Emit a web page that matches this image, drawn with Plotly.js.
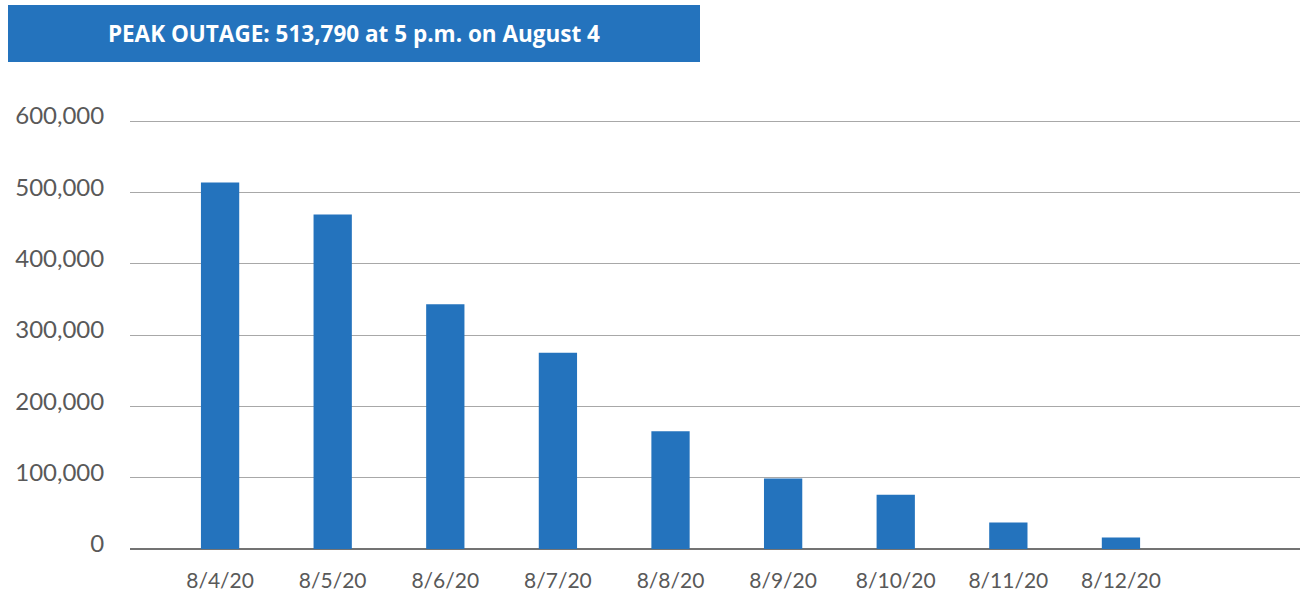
<!DOCTYPE html>
<html>
<head>
<meta charset="utf-8">
<script src="https://cdn.plot.ly/plotly-3.0.1.min.js"></script>
<style>html,body{margin:0;padding:0;background:#fff;}#chart{width:1304px;height:592px;}</style>
</head>
<body>
<div id="chart"></div>
<script>
var dates = ["8/4/20","8/5/20","8/6/20","8/7/20","8/8/20","8/9/20","8/10/20","8/11/20","8/12/20"];
var outages = [513790, 469000, 343000, 275000, 165000, 99000, 76000, 37000, 16000];
var yTicks = [0, 100000, 200000, 300000, 400000, 500000, 600000];
var yTickLabels = ["0","100,000","200,000","300,000","400,000","500,000","600,000"];
var headline = "PEAK OUTAGE: 513,790 at 5 p.m. on August 4";

var FONT = "Lato, 'Open Sans', sans-serif";
var trace = {
  type: "bar",
  x: dates,
  y: outages,
  width: 0.34,
  marker: {color: "#2473bd", line: {width: 0}},
  hoverinfo: "x+y"
};
var layout = {
  width: 1304, height: 592,
  margin: {l: 130, r: 4, t: 119, b: 43},
  paper_bgcolor: "#fff", plot_bgcolor: "#fff",
  showlegend: false,
  font: {family: FONT, color: "#595959", size: 19},
  xaxis: {
    type: "category",
    range: [-0.8, 9.59],
    showgrid: false, zeroline: false, showline: false,
    ticks: "outside", ticklen: 13, tickcolor: "rgba(0,0,0,0)",
    tickfont: {family: FONT, size: 21, color: "#595959"},
    fixedrange: true
  },
  yaxis: {
    range: [0, 602800],
    tickvals: yTicks, ticktext: yTickLabels,
    showgrid: true, gridcolor: "#a8a8a8", gridwidth: 1,
    zeroline: true, zerolinecolor: "#737373", zerolinewidth: 1.5,
    showline: false, ticks: "outside", ticklen: 20, tickcolor: "rgba(0,0,0,0)",
    ticklabelshift: -5,
    tickfont: {family: FONT, size: 24, color: "#595959"},
    fixedrange: true
  },
  annotations: [{
    xref: "paper", yref: "paper",
    x: (354 - 130) / 1170, y: (549 - 33.5) / 430,
    xanchor: "center", yanchor: "middle",
    width: 692, height: 57,
    bgcolor: "#2473bd", borderpad: 0, borderwidth: 0,
    showarrow: false,
    text: "<b>" + headline + "</b>",
    font: {family: "'Open Sans', sans-serif", size: 22.5, color: "#ffffff"}
  }]
};
Plotly.newPlot("chart", [trace], layout, {displayModeBar: false, staticPlot: true});
</script>
</body>
</html>
